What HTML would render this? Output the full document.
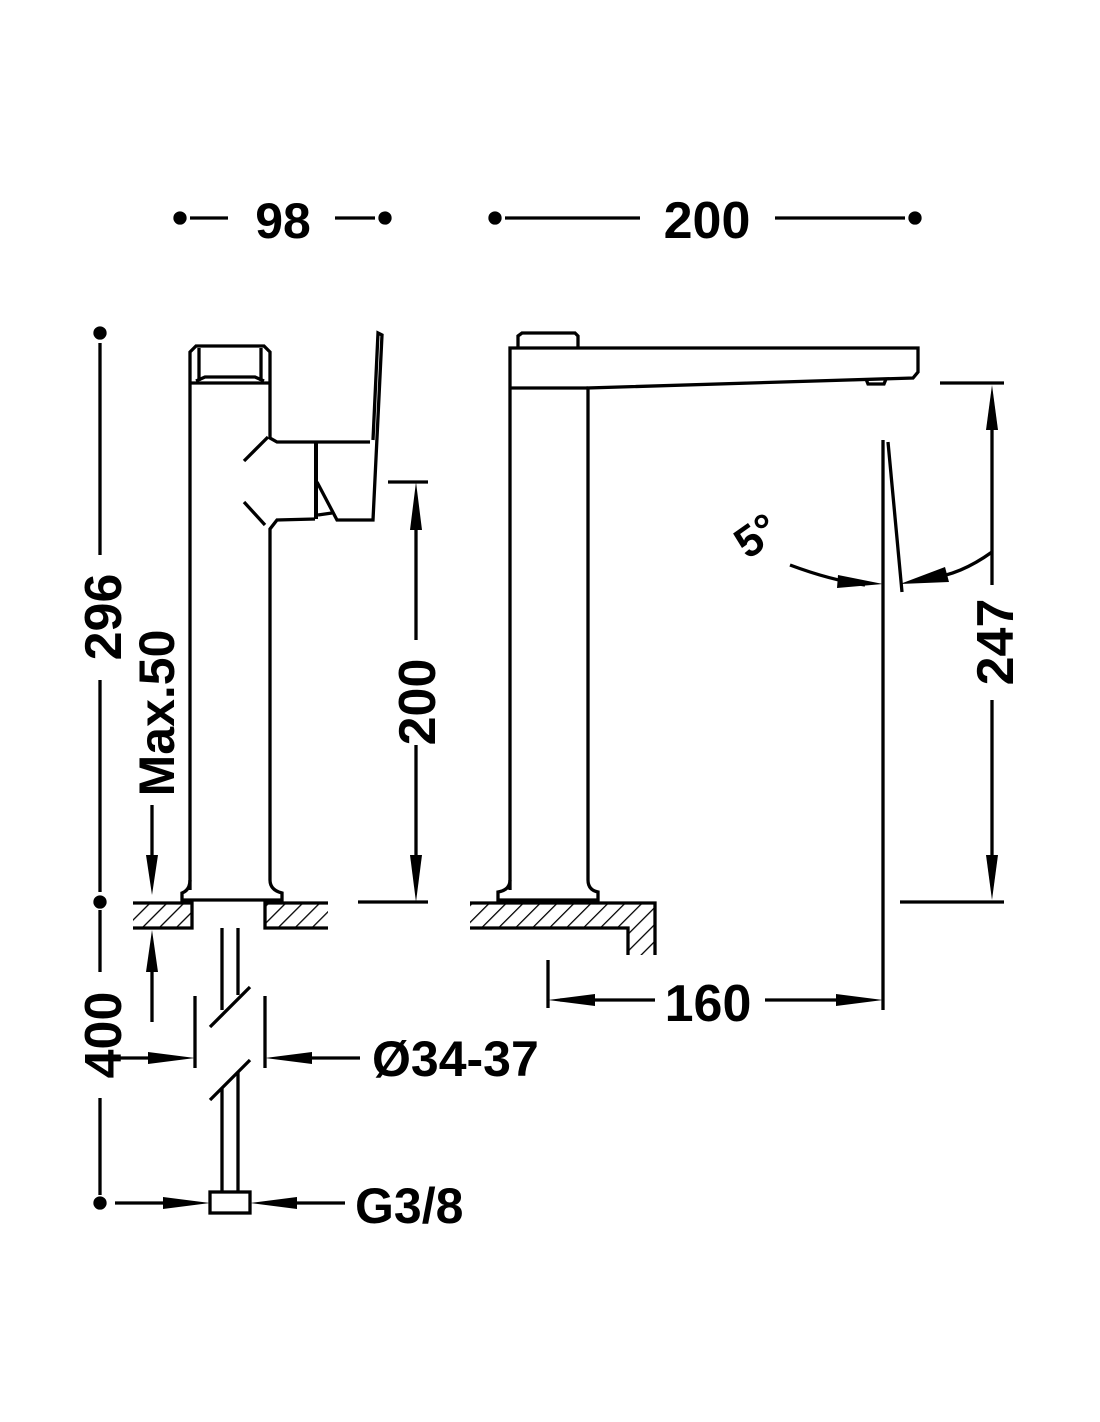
<!DOCTYPE html>
<html><head><meta charset="utf-8"><style>
html,body{margin:0;padding:0;background:#fff}
svg{display:block}
text{font-family:"Liberation Sans",sans-serif;font-weight:bold;fill:#000}
</style></head><body>
<svg width="1100" height="1422" viewBox="0 0 1100 1422" xmlns="http://www.w3.org/2000/svg">
<defs>
<pattern id="h" width="12" height="12" patternUnits="userSpaceOnUse" patternTransform="rotate(45)">
<line x1="0" y1="0" x2="0" y2="12" stroke="#000" stroke-width="2.6"/>
</pattern>
</defs>
<g stroke="#000" stroke-width="3.3" fill="none">
<circle cx="180" cy="218" r="5" fill="#000"/><circle cx="385" cy="218" r="5" fill="#000"/>
<line x1="190" y1="218" x2="228" y2="218"/><line x1="335" y1="218" x2="375" y2="218"/>
<circle cx="495" cy="218" r="5" fill="#000"/><circle cx="915" cy="218" r="5" fill="#000"/>
<line x1="505" y1="218" x2="640" y2="218"/><line x1="775" y1="218" x2="905" y2="218"/>
<circle cx="100" cy="333" r="5" fill="#000"/><circle cx="100" cy="902" r="5" fill="#000"/>
<line x1="100" y1="343" x2="100" y2="555"/><line x1="100" y1="680" x2="100" y2="892"/>
<line x1="100" y1="910" x2="100" y2="972"/>
<line x1="100" y1="1098" x2="100" y2="1195"/><circle cx="100" cy="1203" r="5" fill="#000"/>
<line x1="152" y1="805" x2="152" y2="870"/>
<path d="M146,855 L152,895 L158,855z" fill="#000" stroke="none"/>
<line x1="152" y1="1022" x2="152" y2="950"/>
<path d="M146,972 L152,930 L158,972z" fill="#000" stroke="none"/>
<path d="M190,890 L190,352 L196,346 L264,346 L270,352 L270,438 L277,442 L370,442"/>
<line x1="190" y1="383" x2="270" y2="383"/>
<line x1="199" y1="348" x2="199" y2="381"/><line x1="261" y1="348" x2="261" y2="381"/>
<path d="M196,381 L205,377 L255,377 L264,381"/>
<path d="M268,437 L244,461"/><path d="M244,502 L265,525"/>
<path d="M270,880 L270,529 L277,520 L315,519"/>
<path d="M316,443 L316,519" stroke-width="4"/>
<path d="M317,482 L337,520 L373,520 L382,335 L378,333 L373,440"/>
<line x1="318" y1="515" x2="332" y2="513"/>
<path d="M190,880 Q190,890 182,893 L182,900 L282,900 L282,893 Q270,890 270,880"/>
<rect x="133" y="903" width="59" height="25" fill="url(#h)" stroke="none"/>
<rect x="265" y="903" width="63" height="25" fill="url(#h)" stroke="none"/>
<path d="M133,903 H192 V928 H133"/><path d="M328,903 H265 V928 H328"/>
<line x1="358" y1="902" x2="428" y2="902"/>
<line x1="222" y1="928" x2="222" y2="1010"/><line x1="238" y1="928" x2="238" y2="995"/>
<line x1="210" y1="1027" x2="250" y2="987"/><line x1="210" y1="1100" x2="250" y2="1060"/>
<line x1="222" y1="1088" x2="222" y2="1192"/><line x1="238" y1="1072" x2="238" y2="1192"/>
<rect x="210" y="1192" width="40" height="21"/>
<line x1="195" y1="996" x2="195" y2="1068"/><line x1="265" y1="996" x2="265" y2="1068"/>
<line x1="115" y1="1058" x2="180" y2="1058"/><path d="M148,1052 L195,1058 L148,1064z" fill="#000" stroke="none"/>
<line x1="360" y1="1058" x2="280" y2="1058"/><path d="M312,1052 L265,1058 L312,1064z" fill="#000" stroke="none"/>
<line x1="115" y1="1203" x2="195" y2="1203"/><path d="M163,1197 L210,1203 L163,1209z" fill="#000" stroke="none"/>
<line x1="345" y1="1203" x2="265" y2="1203"/><path d="M297,1197 L250,1203 L297,1209z" fill="#000" stroke="none"/>
<line x1="388" y1="482" x2="428" y2="482"/>
<line x1="416" y1="498" x2="416" y2="640"/><path d="M410,530 L416,482 L422,530z" fill="#000" stroke="none"/>
<line x1="416" y1="745" x2="416" y2="880"/><path d="M410,855 L416,902 L422,855z" fill="#000" stroke="none"/>
<path d="M518,348 L518,336 L522,333 L575,333 L578,336 L578,348"/>
<path d="M510,890 L510,348 L918,348 L918,372 L913,378 L588,388 L588,880"/>
<line x1="510" y1="388" x2="588" y2="388"/>
<path d="M866,379 L868,384 L884,384 L886,379"/>
<path d="M510,880 Q510,890 498,892 L498,900 L598,900 L598,892 Q588,890 588,880"/>
<rect x="470" y="903" width="185" height="25" fill="url(#h)" stroke="none"/>
<rect x="628" y="928" width="27" height="27" fill="url(#h)" stroke="none"/>
<path d="M470,903 H655 V955"/><path d="M470,928 H628 V955"/>
<line x1="883" y1="440" x2="883" y2="1010"/>
<line x1="888" y1="442" x2="902" y2="592"/>
<path d="M790,565 Q830,580 865,585"/><path d="M838,575 L883,584 L837,588z" fill="#000" stroke="none"/>
<path d="M992,552 Q960,575 930,578"/><path d="M945,567 L900,584 L949,582z" fill="#000" stroke="none"/>
<line x1="940" y1="383" x2="1004" y2="383"/>
<line x1="992" y1="430" x2="992" y2="585"/><path d="M986,430 L992,385 L998,430z" fill="#000" stroke="none"/>
<line x1="992" y1="700" x2="992" y2="860"/><path d="M986,855 L992,900 L998,855z" fill="#000" stroke="none"/>
<line x1="900" y1="902" x2="1004" y2="902"/>
<line x1="548" y1="960" x2="548" y2="1008"/>
<line x1="560" y1="1000" x2="655" y2="1000"/><path d="M595,994 L548,1000 L595,1006z" fill="#000" stroke="none"/>
<line x1="765" y1="1000" x2="840" y2="1000"/><path d="M836,994 L883,1000 L836,1006z" fill="#000" stroke="none"/>
</g>
<text x="283" y="238" font-size="50" text-anchor="middle">98</text>
<text x="707" y="238" font-size="52" text-anchor="middle">200</text>
<text x="708" y="1021" font-size="52" text-anchor="middle">160</text>
<text x="372" y="1076" font-size="50">Ø34-37</text>
<text x="355" y="1223" font-size="50">G3/8</text>
<text transform="translate(121,617) rotate(-90)" font-size="52" text-anchor="middle">296</text>
<text transform="translate(174,713) rotate(-90)" font-size="50" text-anchor="middle">Max.50</text>
<text transform="translate(121,1035) rotate(-90)" font-size="52" text-anchor="middle">400</text>
<text transform="translate(435,702) rotate(-90)" font-size="52" text-anchor="middle">200</text>
<text transform="translate(1013,642) rotate(-90)" font-size="52" text-anchor="middle">247</text>
<text transform="translate(765,548) rotate(-35)" font-size="44" text-anchor="middle">5°</text>
</svg>
</body></html>
